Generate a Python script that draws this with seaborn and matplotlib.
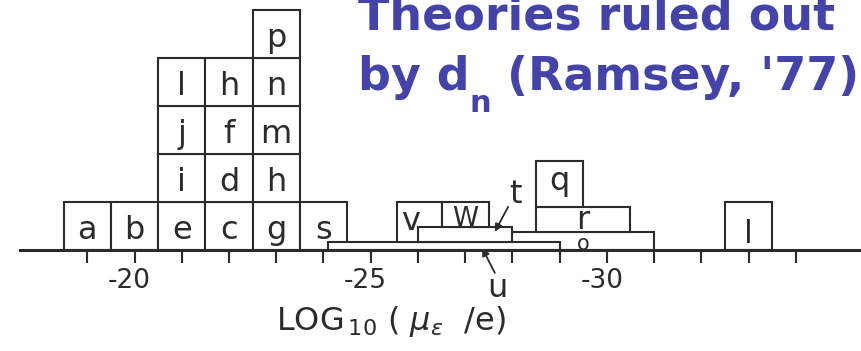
import matplotlib
matplotlib.use("Agg")
import matplotlib.pyplot as plt
from matplotlib.transforms import ScaledTranslation
import seaborn as sns

# Theories giving a single value of log10(mu_e / e): stacked unit boxes
box_labels = ["a", "b", "e", "c", "g", "s", "i", "d", "h", "j", "f", "m", "l", "h", "n", "p"]
box_log10 = [-19, -20, -21, -22, -23, -24, -21, -22, -23, -21, -22, -23, -21, -22, -23, -23]

# Theories spanning a range of log10(mu_e / e), listed in drawing order
range_labels = ["o", "u", "v", "t", "W", "r", "q", "l"]
range_from = [-28.0, -24.1, -25.55, -26.0, -26.5, -28.5, -28.5, -32.5]
range_to = [-31.0, -29.0, -26.5, -28.0, -27.5, -30.5, -29.5, -33.5]
range_bottom = [0.0, 0.0, 0.15, 0.15, 0.48, 0.36, 0.88, 0.0]
range_top = [0.36, 0.15, 1.0, 0.48, 1.0, 0.88, 1.84, 1.0]

# Axis ticks
tick_values = list(range(-19, -35, -1))
tick_labels = ["", "-20", "", "", "", "", "-25", "", "", "", "", "-30", "", "", "", ""]

title_line1 = "Theories ruled out"
title_line2 = ["by d", "n", " (Ramsey, '77)"]
x_label = "LOG$_{\\,10}$ ( $\\mu_{\\epsilon}$  /e)"

sns.set_theme(style="white")
plt.rcParams["font.family"] = ["DejaVu Sans"]
plt.rcParams["mathtext.fontset"] = "dejavusans"

INK = "#2b2b2b"
BLUE = "#4343a8"
LW = 1.5

fig = plt.figure(figsize=(8.62, 3.51), dpi=100)
fig.patch.set_facecolor("white")
ax = fig.add_axes([0, 0, 1, 1])
ax.set_facecolor("white")
ax.set_xlim(-17.152, -35.403)
ax.set_ylim(-2.119, 5.209)

# stack level of each unit box = how many boxes already sit at that value
levels = []
counts = {}
for v in box_log10:
    levels.append(counts.get(v, 0))
    counts[v] = counts.get(v, 0) + 1

ax.bar(box_log10, [1.0] * len(box_log10), bottom=levels, width=1.0,
       color="white", edgecolor=INK, linewidth=LW, zorder=2)
for lab, v, lev in zip(box_labels, box_log10, levels):
    ax.text(v, lev + 0.22, lab, ha="center", va="baseline",
            fontsize=23, color=INK, zorder=5)

# range bars, each drawn over the previous ones
label_dx = {"v": 0.18}
label_dy = {"o": -0.01, "v": 0.26, "W": 0.01, "r": 0.06, "q": 0.36, "l": 0.14}
label_size = {"o": 15, "W": 19}
for i, (lab, lo, hi, b, t) in enumerate(zip(range_labels, range_from, range_to,
                                             range_bottom, range_top)):
    ax.bar((lo + hi) / 2, t - b, bottom=b, width=abs(hi - lo),
           color="white", edgecolor=INK, linewidth=LW, zorder=3 + i * 0.01)
    if lab in ("t", "u"):
        continue
    ax.text((lo + hi) / 2 + label_dx.get(lab, 0), b + label_dy.get(lab, 0.2), lab,
            ha="center", va="baseline", fontsize=label_size.get(lab, 23),
            color=INK, zorder=5)

# labels for the thin bars, pointed to by arrows
arrow_kw = dict(arrowstyle="-|>", color=INK, lw=1.3, mutation_scale=11,
                shrinkA=0, shrinkB=0)
ax.text(-28.06, 0.97, "t", ha="center", va="baseline", fontsize=23, color=INK, zorder=5)
ax.annotate("", xy=(-27.63, 0.37), xytext=(-27.91, 0.89), arrowprops=arrow_kw, zorder=6)
ax.text(-27.68, -0.99, "u", ha="center", va="baseline", fontsize=23, color=INK, zorder=5)
ax.annotate("", xy=(-27.36, 0.03), xytext=(-27.63, -0.49), arrowprops=arrow_kw, zorder=6)

# horizontal axis through y = 0
for side in ("left", "right", "top"):
    ax.spines[side].set_visible(False)
ax.spines["bottom"].set_position(("data", 0))
ax.spines["bottom"].set_bounds(-17.58, -35.403)
ax.spines["bottom"].set_linewidth(2.2)
ax.spines["bottom"].set_color(INK)
ax.spines["bottom"].set_zorder(4)
ax.set_yticks([])
ax.set_xticks(tick_values)
ax.set_xticklabels(tick_labels, fontsize=19, color=INK)
ax.tick_params(axis="x", direction="out", length=9, width=1.5, color=INK,
               pad=4, bottom=True)
shift = ScaledTranslation(-5 / 100, 0, fig.dpi_scale_trans)
for tl in ax.get_xticklabels():
    tl.set_transform(tl.get_transform() + shift)

ax.text(-25.43, -1.68, x_label, ha="center", va="baseline", fontsize=23, color=INK)

# title in the upper right, with a lowered subscript n
title_kw = dict(fontweight="bold", color=BLUE)
fig.text(358 / 862, 1 - 29 / 351, title_line1, ha="left", va="baseline",
         fontsize=33, **title_kw)
t1 = fig.text(358 / 862, 1 - 90 / 351, title_line2[0], ha="left", va="baseline",
              fontsize=33, **title_kw)
t2 = ax.annotate(title_line2[1], xy=(1, 0), xycoords=t1, xytext=(0, -9),
                 textcoords="offset points", ha="left", va="baseline",
                 fontsize=22, **title_kw)
ax.annotate(title_line2[2], xy=(1, 0), xycoords=(t2, t1), ha="left", va="bottom",
            fontsize=33, annotation_clip=False, **title_kw)

fig.savefig("out.png", dpi=100, facecolor="white")
